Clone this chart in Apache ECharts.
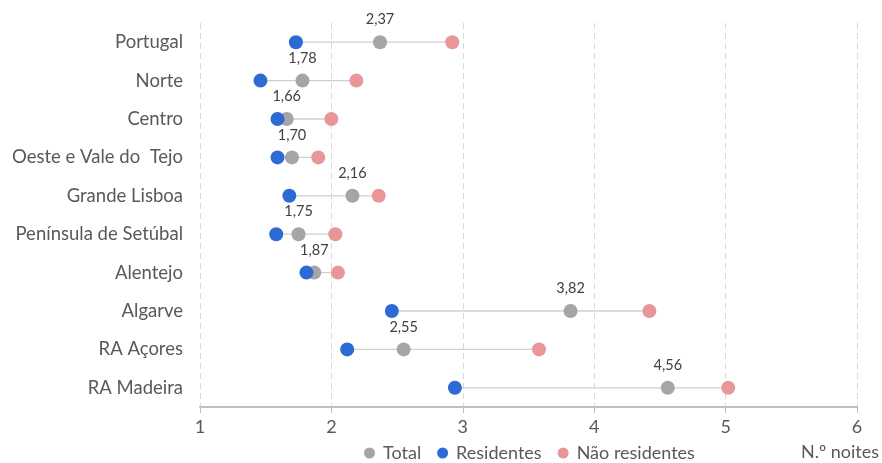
<!DOCTYPE html>
<html>
<head>
<meta charset="utf-8">
<script src="https://cdn.jsdelivr.net/npm/echarts@6/dist/echarts.min.js"></script>
<style>
  html, body { margin: 0; padding: 0; background: #fff; }
  #chart { width: 882px; height: 463px; }
</style>
</head>
<body>
<div id="chart"></div>
<script>
// Regiões (de cima para baixo)
const regioes = ['Portugal', 'Norte', 'Centro', 'Oeste e Vale do  Tejo', 'Grande Lisboa',
  'Península de Setúbal', 'Alentejo', 'Algarve', 'RA Açores', 'RA Madeira'];
// Estada média (N.º noites)
const total = [2.37, 1.78, 1.66, 1.70, 2.16, 1.75, 1.87, 3.82, 2.55, 4.56];
const residentes = [1.73, 1.46, 1.59, 1.59, 1.68, 1.58, 1.81, 2.46, 2.12, 2.94];
const naoResidentes = [2.92, 2.19, 2.00, 1.90, 2.36, 2.03, 2.05, 4.42, 3.58, 5.02];
const xTicks = [1, 2, 3, 4, 5, 6];

const txt = '#595959';
const font = 'Lato, "Open Sans", sans-serif';

// intervalo mínimo–máximo de cada região para a linha de ligação
const intervalos = regioes.map((r, i) => {
  const v = [total[i], residentes[i], naoResidentes[i]];
  return [Math.min(...v), Math.max(...v), i];
});

const chart = echarts.init(document.getElementById('chart'));
chart.setOption({
  animation: false,
  grid: { left: 200, right: 24, top: 23, bottom: 56 },
  legend: {
    bottom: -4, left: 359,
    itemWidth: 11, itemHeight: 11, itemGap: 16,
    icon: 'circle',
    textStyle: { color: txt, fontSize: 18, fontFamily: font, padding: [0, 0, 0, 3] },
    data: ['Total', 'Residentes', 'Não residentes']
  },
  xAxis: {
    type: 'value', min: xTicks[0], max: xTicks[xTicks.length - 1], interval: 1,
    name: 'N.º noites', nameLocation: 'end', nameGap: 0,
    nameTextStyle: { color: txt, fontSize: 18, fontFamily: font, align: 'right', verticalAlign: 'top', padding: [36, -22, 0, 0] },
    axisLine: { show: true, lineStyle: { color: '#BFBFBF', width: 2 } },
    axisTick: { show: true, length: 6, lineStyle: { color: '#BFBFBF', width: 1 } },
    axisLabel: { color: txt, fontSize: 18, fontFamily: font, margin: 11 },
    splitLine: { show: true, lineStyle: { color: '#D9D9D9', type: [6, 4], width: 1 } }
  },
  yAxis: {
    type: 'category', data: regioes, inverse: true,
    axisLine: { show: false }, axisTick: { show: false },
    axisLabel: { color: txt, fontSize: 18.5, fontFamily: font, margin: 17 },
    splitLine: { show: false }
  },
  series: [
    {
      type: 'custom', name: 'ligacao', silent: true, z: 1,
      data: intervalos,
      renderItem: (params, api) => {
        const a = api.coord([api.value(0), api.value(2)]);
        const b = api.coord([api.value(1), api.value(2)]);
        return { type: 'line', shape: { x1: a[0], y1: a[1], x2: b[0], y2: b[1] },
          style: { stroke: '#CFCFCF', lineWidth: 1.3 } };
      }
    },
    {
      type: 'scatter', name: 'Total', z: 3, symbolSize: 14,
      itemStyle: { color: '#A5A5A5', opacity: 1 },
      label: { show: true, position: 'top', distance: 8, color: '#404040', fontSize: 14.5, fontFamily: font,
        formatter: p => p.value[0].toFixed(2).replace('.', ',') },
      data: total.map((v, i) => [v, regioes[i]])
    },
    {
      type: 'scatter', name: 'Residentes', z: 4, symbolSize: 14,
      itemStyle: { color: '#2E6AD4', opacity: 1 },
      data: residentes.map((v, i) => [v, regioes[i]])
    },
    {
      type: 'scatter', name: 'Não residentes', z: 2, symbolSize: 14,
      itemStyle: { color: '#E8969A', opacity: 1 },
      data: naoResidentes.map((v, i) => [v, regioes[i]])
    }
  ]
});
</script>
</body>
</html>
